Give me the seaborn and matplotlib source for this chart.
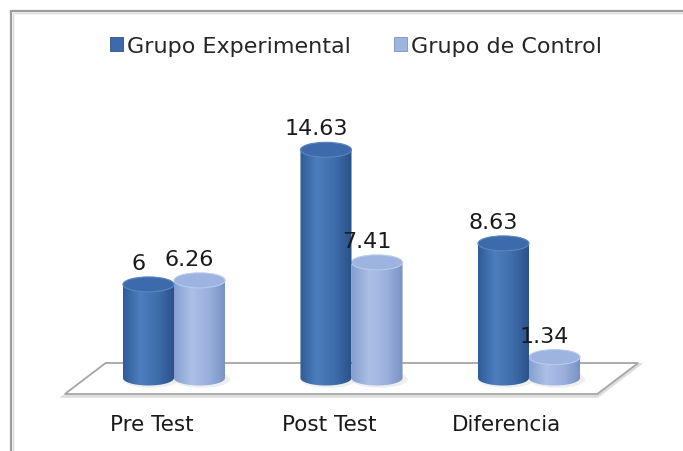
import numpy as np
import pandas as pd
import matplotlib
matplotlib.use('Agg')
import matplotlib.pyplot as plt
import seaborn as sns
from matplotlib.patches import Ellipse, PathPatch, Polygon, Rectangle, Patch
from matplotlib.path import Path
from matplotlib.colors import LinearSegmentedColormap

# data
categorias = ['Pre Test', 'Post Test', 'Diferencia']
grupos = ['Grupo Experimental', 'Grupo de Control']
experimental = [6, 14.63, 8.63]
control = [6.26, 7.41, 1.34]
etiquetas = [['6', '14.63', '8.63'], ['6.26', '7.41', '1.34']]

df = pd.DataFrame({
    'categoria': categorias * 2,
    'grupo': [grupos[0]] * len(categorias) + [grupos[1]] * len(categorias),
    'valor': experimental + control,
})

# pixel layout -> data units
W, H = 683, 452
X0, XSTEP = 174, 177.5
Y0, YSTEP = 379, 15.6


def px_x(p):
    return (p - X0) / XSTEP


def px_y(p):
    return (Y0 - p) / YSTEP


base_colors = ['#3d6aa8', '#94aedb']
grad_stops = [['#2f5c98', '#4d7ebe', '#3f6dac', '#2a5188'],
              ['#869fcf', '#abc0e7', '#9ab1dd', '#7890c2']]
top_colors = ['#3c6aab', '#9db4e0']
top_edges = ['#5a86c2', '#b8cbee']

sns.set_theme(style='white')
plt.rcParams['font.family'] = ['DejaVu Sans']

fig = plt.figure(figsize=(W / 100, H / 100), dpi=100)
ax = fig.add_axes([0, 0, 1, 1])
sns.barplot(data=df, x='categoria', y='valor', hue='grupo', hue_order=grupos,
            order=categorias, palette=base_colors, width=0.575, saturation=1,
            legend=False, ax=ax)

eh = 15 / YSTEP  # ellipse height in data units
theta = np.linspace(np.pi, 2 * np.pi, 80)
grad = np.linspace(0, 1, 256).reshape(1, -1)

for g, cont in enumerate(ax.containers):
    cmap = LinearSegmentedColormap.from_list('c%d' % g, grad_stops[g])
    z = 3 if g == 0 else 2
    for i, bar in enumerate(cont):
        x0, w, h = bar.get_x(), bar.get_width(), bar.get_height()
        cx = x0 + w / 2
        bar.set_visible(False)

        # soft shadow on the floor
        ax.add_patch(Ellipse((cx + w * 0.05, -eh * 0.1), w * 1.1, eh * 1.1,
                             fc='#7f7f7f', alpha=0.13, lw=0, zorder=1.5))

        # cylinder body with horizontal shading
        verts = [(x0, h)] + list(zip(cx + w / 2 * np.cos(theta), eh / 2 * np.sin(theta))) + [(x0 + w, h), (x0, h)]
        clip = PathPatch(Path(verts), transform=ax.transData, fc='none', ec='none')
        im = ax.imshow(grad, cmap=cmap, extent=(x0, x0 + w, -eh / 2, h),
                       aspect='auto', zorder=z, interpolation='bicubic')
        im.set_clip_path(clip)

        # top cap
        ax.add_patch(Ellipse((cx, h), w, eh, fc=top_colors[g], ec=top_edges[g],
                             lw=0.8, zorder=z + 0.1))

        ax.annotate(etiquetas[g][i], xy=(cx, h), xytext=(-7.2, 11.2),
                    textcoords='offset points', ha='center', va='baseline',
                    fontsize=16, color='#1a1a1a', zorder=6)

# floor
n = len(categorias)
yf, yb = px_y(395), px_y(364)
floor_pts = [(-0.615, yf), (n - 0.615, yf), (n - 0.385, yb), (-0.385, yb)]
ax.add_patch(Polygon([(x, y - 2 / YSTEP) for x, y in floor_pts], fc='none',
                     ec='#dddddd', lw=2.5, zorder=0.8))
ax.add_patch(Polygon(floor_pts, fc='white', ec='#a6a6a6', lw=1.3, zorder=1))

# category labels
for i, cat in enumerate(categorias):
    ax.text(i - 22 / XSTEP, px_y(425), cat, ha='center', va='center',
            fontsize=15.5, color='#1a1a1a')

# chart border
ax.add_patch(Rectangle((11 / W, -0.1), 2, 1 - 12 / H + 0.1, transform=ax.transAxes,
                       fill=False, ec='#9c9c9c', lw=1.6, zorder=0.5, clip_on=False))
ax.add_patch(Rectangle((13 / W, -0.1), 2, 1 - 14 / H + 0.1, transform=ax.transAxes,
                       fill=False, ec='#dadada', lw=1.0, zorder=0.4, clip_on=False))

handles = [Patch(fc=top_colors[0], ec='#2a5188', lw=0.6),
           Patch(fc=top_colors[1], ec='#7a93c4', lw=0.6)]
ax.legend(handles, grupos, loc='center', bbox_to_anchor=(356 / W, 1 - 47 / H),
          ncol=2, frameon=False, fontsize=16, handlelength=0.6, handleheight=0.6,
          handletextpad=0.2, columnspacing=1.9, borderpad=0)

ax.set_xlim(px_x(0), px_x(W))
ax.set_ylim(px_y(H), px_y(0))
ax.set_axis_off()

fig.savefig('out.png', dpi=100)
